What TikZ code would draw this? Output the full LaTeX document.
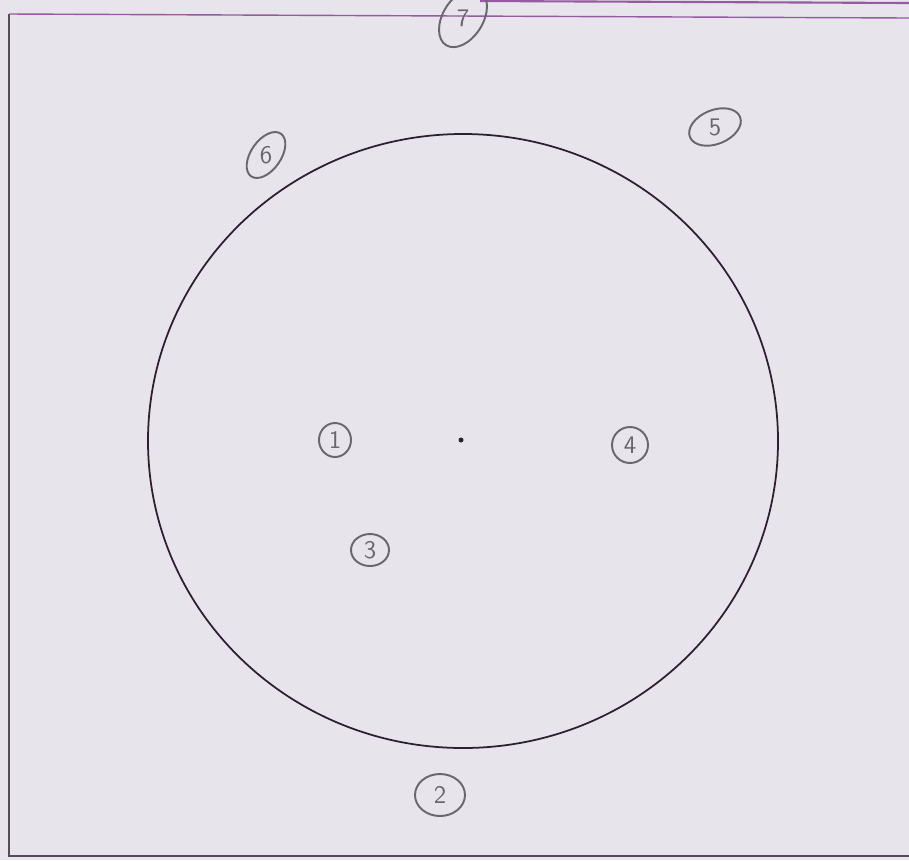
\documentclass[tikz,border=0pt]{standalone}
\usepackage{tikz}
\usetikzlibrary{shapes.geometric}
\definecolor{papergray}{RGB}{231,229,235}
\definecolor{pencilgray}{RGB}{105,103,110}
\definecolor{inkdark}{RGB}{45,30,50}
\definecolor{rulemag}{RGB}{150,90,160}
\tikzset{
  mark label/.style={inner sep=0pt,text=pencilgray,font=\sffamily\Large},
  mark ring/.style={draw=pencilgray,line width=1.1pt},
  frameline/.style={draw=inkdark!80,thick},
  topline/.style={draw=rulemag,thick}
}
\begin{document}
\begin{tikzpicture}[x=0.02cm,y=-0.02cm]
  \useasboundingbox (0,0) rectangle (909,860);
  \fill[papergray] (0,0) rectangle (909,860);
  % paper frame
  \draw[frameline] (909,856) -- (9,856) -- (9,14);
  \draw[topline] (9,14) -- (909,18);
  \draw[topline,very thick] (480,1) -- (909,3);
  % circle and centre
  \draw[inkdark,line width=1pt] (463,441) ellipse (315 and 307);
  \fill[inkdark] (461,440) circle (2.5);
  % numbered marks
  \node[mark label] (m1) at (335,440) {1};
  \node[mark label] (m2) at (440,795) {2};
  \node[mark label] (m3) at (370,550) {3};
  \node[mark label] (m4) at (630,445) {4};
  \node[mark label] (m5) at (715,127) {5};
  \node[mark label] (m6) at (266,155) {6};
  \node[mark label] (m7) at (463,18) {7};
  \draw[mark ring] (m1) ellipse (16 and 17);
  \draw[mark ring] (m2) ellipse (25 and 21);
  \draw[mark ring] (m3) ellipse (19 and 16);
  \draw[mark ring] (m4) ellipse (18 and 18);
  \draw[mark ring,rotate around={22:(m5)}] (m5) ellipse (27 and 17);
  \draw[mark ring,rotate around={55:(m6)}] (m6) ellipse (26 and 15);
  \draw[mark ring,rotate around={58:(m7)}] (m7) ellipse (32 and 20);
\end{tikzpicture}
\end{document}
